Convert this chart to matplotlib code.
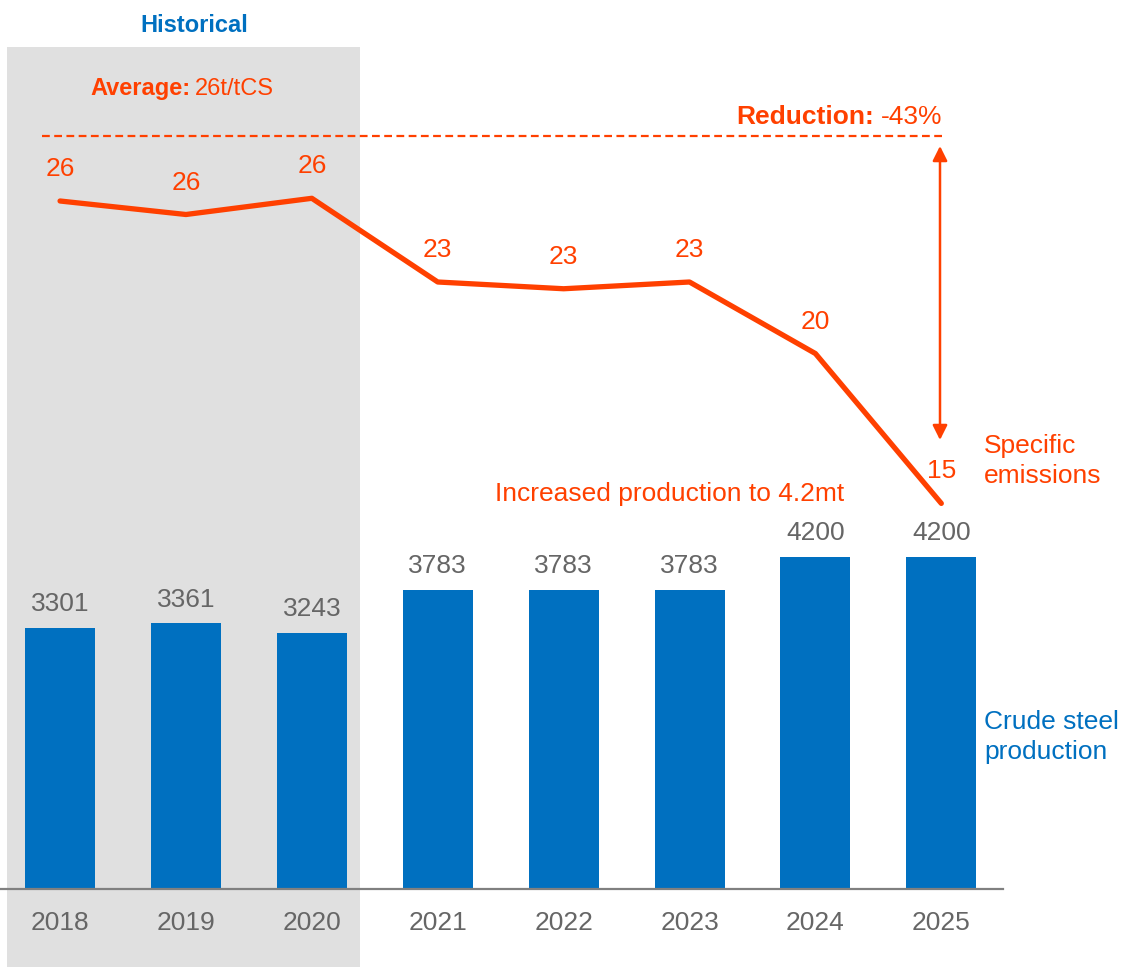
import matplotlib
matplotlib.use("Agg")
import matplotlib.pyplot as plt
from matplotlib.patches import Rectangle

plt.rcParams['font.family'] = ['Liberation Sans', 'DejaVu Sans']

years = ['2018', '2019', '2020', '2021', '2022', '2023', '2024', '2025']
production = [3301, 3361, 3243, 3783, 3783, 3783, 4200, 4200]
emissions = [26.1, 25.6, 26.2, 23.1, 22.85, 23.1, 20.45, 14.9]
average_emissions = 26
reduction_pct = -43

BLUE = '#0070C0'
ORANGE = '#FF4000'
GRAY_TXT = '#666666'
BG = '#E0E0E0'

W, H = 1122, 967
fig = plt.figure(figsize=(W / 100, H / 100), dpi=100)
fig.patch.set_facecolor('white')

# axes: x from 0 to 1003 px, y from 889 px (from top) to top
ax = fig.add_axes([0, (H - 889) / H, 1003 / W, 889 / H])
ax.patch.set_visible(False)
x = list(range(len(years)))
ax.set_xlim(-0.477, 7.49)
ax.set_ylim(0, 4200 * 889 / 332)

# historical shaded area (figure coordinates)
ax.add_patch(Rectangle((7 / W, 0), 353 / W, (H - 47) / H,
                       transform=fig.transFigure, facecolor=BG,
                       edgecolor='none', zorder=0, clip_on=False))

ax.bar(x, production, width=0.556, color=BLUE, zorder=3)
for xi, v in zip(x, production):
    ax.annotate(f'{v}', (xi, v), xytext=(0, 17), textcoords='offset points',
                ha='center', va='center', fontsize=19, color=GRAY_TXT)

for s in ['top', 'right', 'left']:
    ax.spines[s].set_visible(False)
ax.spines['bottom'].set_color('#808080')
ax.spines['bottom'].set_linewidth(1.6)
ax.spines['bottom'].set_zorder(5)
ax.set_yticks([])
ax.set_xticks(x)
ax.set_xticklabels(years, fontsize=19, color=GRAY_TXT)
ax.tick_params(axis='x', length=0, pad=16)

# emissions line on twin axis
ax2 = ax.twinx()
ax2.set_xlim(ax.get_xlim())
ax2.set_ylim(23.1 - 607 / 27, 23.1 + 282 / 27)
ax2.axis('off')
ax2.plot(x, emissions, color=ORANGE, lw=3.8, solid_capstyle='round',
         solid_joinstyle='round', zorder=4)
for xi, v in zip(x, emissions):
    ax2.annotate(f'{round(v)}', (xi, v), xytext=(0, 23), textcoords='offset points',
                 ha='center', va='center', fontsize=19, color=ORANGE)

# dashed average line & reduction arrow (in pixel-derived figure coords)
def fx(px):
    return px / W

def fy(py):
    return (H - py) / H

fig.add_artist(plt.Line2D([fx(42), fx(942)], [fy(136), fy(136)],
                          transform=fig.transFigure, color=ORANGE,
                          lw=1.6, ls=(0, (3.5, 2))))
ax2.annotate('', xy=(fx(940), fy(146)), xytext=(fx(940), fy(440)),
             xycoords='figure fraction', textcoords='figure fraction',
             arrowprops=dict(arrowstyle='<|-|>', color=ORANGE, lw=1.8,
                             mutation_scale=22, shrinkA=0, shrinkB=0))

fig.text(fx(194), fy(25), 'Historical', ha='center', va='center',
         fontsize=17, fontweight='bold', color=BLUE)

t1 = fig.text(fx(90), fy(95), 'Average:', ha='left', va='baseline',
              fontsize=17, fontweight='bold', color=ORANGE)
fig.canvas.draw()
bb = t1.get_window_extent()
fig.text(bb.x1 / W + 5 / W, fy(95), f'{average_emissions}t/tCS', ha='left', va='baseline',
         fontsize=17, color=ORANGE)

t2 = fig.text(fx(942), fy(124), f'{reduction_pct}%', ha='right', va='baseline',
              fontsize=19, color=ORANGE)
fig.canvas.draw()
bb2 = t2.get_window_extent()
fig.text(bb2.x0 / W - 6 / W, fy(124), 'Reduction:', ha='right', va='baseline',
         fontsize=19, fontweight='bold', color=ORANGE)

fig.text(fx(984), fy(461), 'Specific\nemissions', ha='left', va='center',
         fontsize=19, color=ORANGE, linespacing=1.35)
fig.text(fx(984), fy(737), 'Crude steel\nproduction', ha='left', va='center',
         fontsize=19, color=BLUE, linespacing=1.35)
fig.text(fx(670), fy(494), 'Increased production to 4.2mt', ha='center', va='center',
         fontsize=19, color=ORANGE)

fig.savefig('out.png', dpi=100, facecolor='white')
